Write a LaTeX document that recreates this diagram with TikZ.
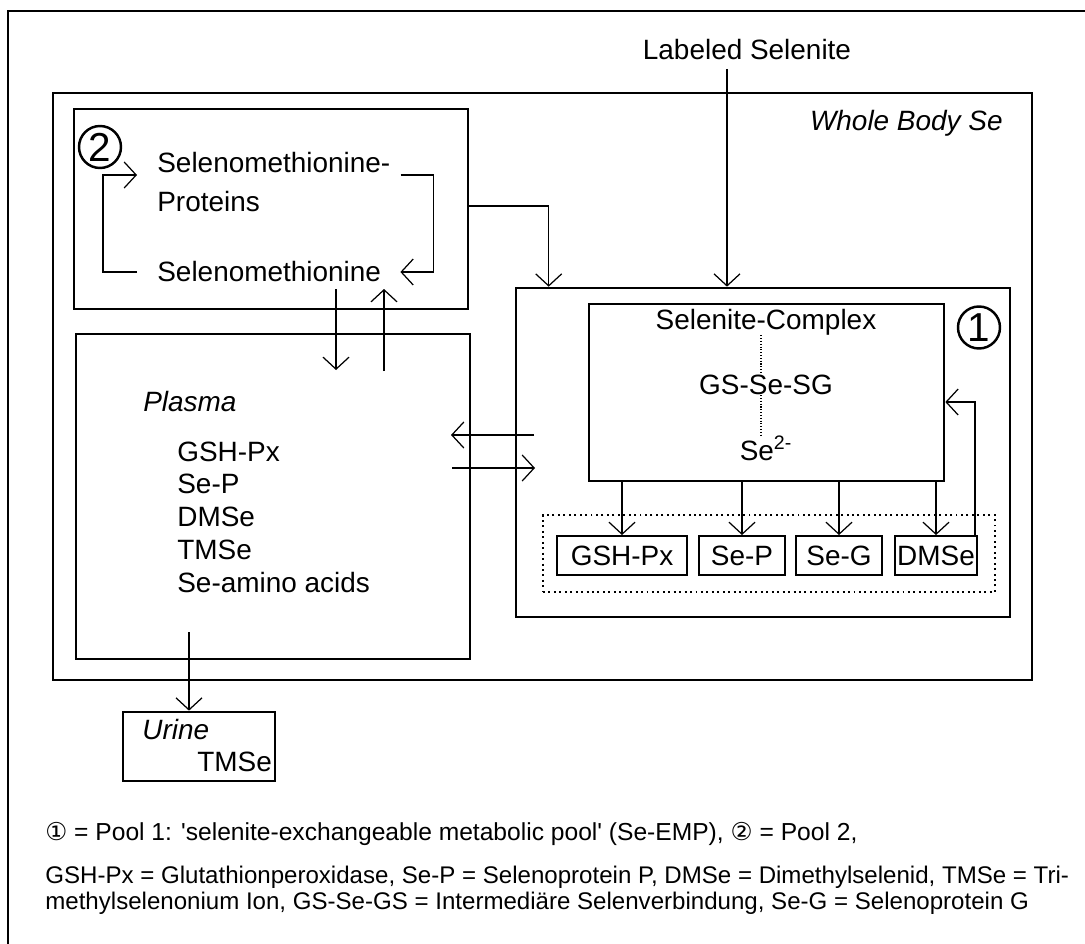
\documentclass[tikz,border=0pt]{standalone}
\usepackage{fontspec}
\setmainfont{Liberation Sans}
\newfontfamily\dejavu{DejaVu Sans}
\usetikzlibrary{arrows.meta,fit}

\begin{document}
\begin{tikzpicture}[font=\fontsize{15.9}{19}\selectfont,
  arr/.style={-{Straight Barb[length=2.4mm,width=5.2mm]},line width=0.7pt},
  box/.style={draw,line width=1.5pt,inner sep=0pt},
  sbox/.style={draw,line width=1.1pt,inner sep=0pt,minimum height=0.78cm},
  lbl/.style={inner sep=0pt},
  poolno/.style={draw,circle,line width=1.4pt,inner sep=0pt,minimum size=0.84cm,font=\fontsize{23}{23}\selectfont},
  dotline/.style={densely dotted,line width=0.6pt}]
	  \useasboundingbox (0,0) rectangle (21.7,-18.88);
	  \draw[line width=1.1pt] (0.16,-18.88) -- (0.16,-0.22) -- (21.7,-0.22);
	  % boxes
	  \node[box,fit={(1.06,-1.86) (20.64,-13.6)}] (wb) {};
	  \node[box,fit={(1.48,-2.18) (9.36,-6.18)}] (pool2) {};
	  \node[box,fit={(1.52,-6.68) (9.4,-13.18)}] (plasma) {};
	  \node[box,fit={(2.46,-14.24) (5.5,-15.62)}] (urine) {};
	  \node[box,fit={(10.32,-5.76) (20.2,-12.34)}] (pool1) {};
	  \node[box,fit={(11.78,-6.08) (18.88,-9.62)}] (cplx) {};
	  \node[draw,dotted,line width=1.1pt,inner sep=0pt,fit={(10.86,-10.3) (19.9,-11.84)}] (grp) {};
	  \node[sbox,minimum width=2.6cm] (gpx) at (12.44,-11.11) {GSH-Px};
	  \node[sbox,minimum width=1.72cm] (sep) at (14.84,-11.11) {Se-P};
	  \node[sbox,minimum width=1.72cm] (seg) at (16.78,-11.11) {Se-G};
	  \node[sbox,minimum width=1.64cm] (dms) at (18.72,-11.11) {DMSe};
	  % labels
	  \node[lbl] (lab) at (14.94,-1.0) {Labeled Selenite};
	  \node[lbl,anchor=east] (wbs) at (20.06,-2.46) {\itshape Whole Body Se};
	  \node[poolno] (no2) at (2.0,-2.94) {2};
	  \node[poolno] (no1) at (19.58,-6.55) {1};
	  \node[lbl,anchor=west] (smetp) at (3.14,-3.26) {Selenomethionine-};
	  \node[lbl,anchor=west] (prot) at (3.14,-4.04) {Proteins};
	  \node[lbl,anchor=west] (smet) at (3.14,-5.44) {Selenomethionine};
	  \node[lbl] (sc) at (15.32,-6.44) {Selenite-Complex};
	  \node[lbl] (gs) at (15.32,-7.7) {GS-Se-SG};
	  \node[lbl] (se) at (15.32,-8.96) {Se\textsuperscript{2-}};
	  \node[lbl,anchor=west] (pl) at (2.86,-8.04) {\itshape Plasma};
	  \node[lbl,anchor=west] (pl1) at (3.54,-9.04) {GSH-Px};
	  \node[lbl,anchor=west] (pl2) at (3.54,-9.68) {Se-P};
	  \node[lbl,anchor=west] (pl3) at (3.54,-10.34) {DMSe};
	  \node[lbl,anchor=west] (pl4) at (3.54,-11.0) {TMSe};
	  \node[lbl,anchor=west] (pl5) at (3.54,-11.66) {Se-amino acids};
	  \node[lbl,anchor=west] (ur) at (2.84,-14.6) {\itshape Urine};
	  \node[lbl,anchor=west] (urt) at (3.94,-15.24) {TMSe};
	  % connectors
	  \coordinate (ls) at (14.54,-1.38);
	  \draw[arr] (ls) -- (ls |- pool1.north);
	  \draw[arr] (pool2.east |- 0,-4.12) -| ([xshift=0.68cm]pool1.north west);
	  \draw[arr] ([xshift=-0.4cm]smet.west) -- ++(-0.68,0) |- ([xshift=-0.4cm,yshift=-0.24cm]smetp.west);
	  \draw[arr] ([xshift=0.2cm,yshift=-0.24cm]smetp.east) -| ([xshift=1.04cm]smet.east) -- ([xshift=0.38cm]smet.east);
	  \coordinate (dn) at (6.72,-5.78);
	  \coordinate (up) at (7.68,-7.42);
	  \draw[arr] (dn) -- ++(0,-1.62);
	  \draw[arr] (up) -- ++(0,1.64);
	  \coordinate (xl) at (10.68,-8.7);
	  \coordinate (xr) at (9.04,-9.36);
	  \draw[arr] (xl) -- ++(-1.66,0);
	  \draw[arr] (xr) -- ++(1.66,0);
	  \draw[dotline] ([xshift=-0.1cm]sc.south) -- ([xshift=-0.1cm]gs.north);
	  \draw[dotline] ([xshift=-0.1cm]gs.south) -- ([xshift=-0.1cm]se.north);
	  \draw[arr] (cplx.south -| gpx.north) -- (gpx.north);
	  \draw[arr] (cplx.south -| sep.north) -- (sep.north);
	  \draw[arr] (cplx.south -| seg.north) -- (seg.north);
	  \draw[arr] (cplx.south -| dms.north) -- (dms.north);
	  \draw[arr] ([xshift=-0.06cm]dms.north east) |- (cplx.east |- 0,-8.04);
	  \coordinate (uo) at (3.78,-12.64);
	  \draw[arr] (uo) -- (uo |- urine.north);
	  % legend
	  \node[lbl,anchor=base west,font=\fontsize{14}{17}\selectfont] (lg1) at (0.9,-16.8)
	    {{\dejavu ①} = Pool 1: \textquotesingle selenite-exchangeable metabolic pool\textquotesingle\ (Se-EMP), {\dejavu ②} = Pool 2,};
	  \node[lbl,anchor=base west,font=\fontsize{13.7}{16}\selectfont] (lg2) at (0.9,-17.66)
	    {GSH-Px = Glutathionperoxidase, Se-P = Selenoprotein P, DMSe = Dimethylselenid, TMSe = Tri-};
	  \node[lbl,anchor=base west,font=\fontsize{13.7}{16}\selectfont] (lg3) at (0.9,-18.18)
	    {methylselenonium Ion, GS-Se-GS = Intermediäre Selenverbindung, Se-G = Selenoprotein G};
	\end{tikzpicture}
\end{document}
